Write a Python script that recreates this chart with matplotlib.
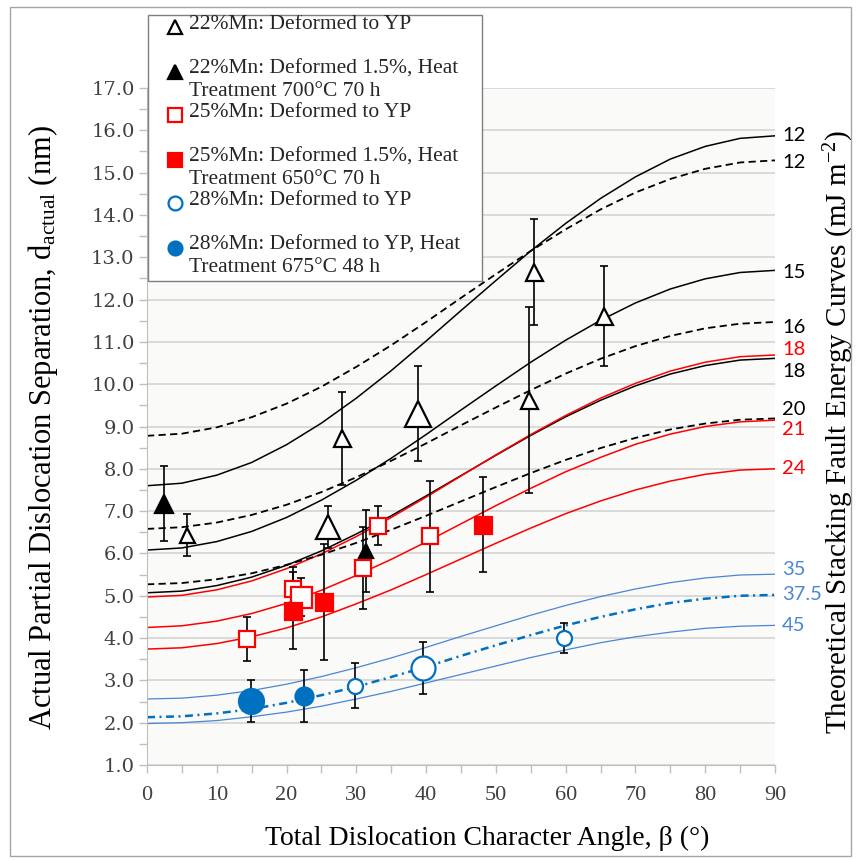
import matplotlib
matplotlib.use('Agg')
import matplotlib.pyplot as plt
from matplotlib.lines import Line2D
from matplotlib.patches import Rectangle
from matplotlib.ticker import MultipleLocator, FormatStrFormatter

W, H = 857, 861

# ---- theoretical SFE curves, d (nm) every 5 deg ----
beta = [0, 5, 10, 15, 20, 25, 30, 35, 40, 45, 50, 55, 60, 65, 70, 75, 80, 85, 90]

k12_solid = [7.60, 7.66, 7.85, 8.15, 8.57, 9.08, 9.67, 10.32, 11.02, 11.74,
             12.45, 13.15, 13.80, 14.39, 14.90, 15.32, 15.62, 15.81, 15.87]
k15_solid = [6.08, 6.13, 6.28, 6.52, 6.85, 7.26, 7.73, 8.25, 8.81, 9.39,
             9.96, 10.52, 11.04, 11.51, 11.92, 12.25, 12.49, 12.64, 12.69]
k18_solid = [5.07, 5.11, 5.24, 5.44, 5.72, 6.06, 6.46, 6.89, 7.36, 7.84,
             8.32, 8.79, 9.23, 9.62, 9.96, 10.24, 10.44, 10.57, 10.61]
k12_dash = [8.78, 8.83, 8.98, 9.22, 9.54, 9.94, 10.41, 10.92, 11.47, 12.04,
            12.60, 13.15, 13.66, 14.13, 14.53, 14.85, 15.09, 15.24, 15.29]
k16_dash = [6.58, 6.62, 6.73, 6.91, 7.15, 7.45, 7.80, 8.19, 8.60, 9.03,
            9.45, 9.86, 10.25, 10.60, 10.90, 11.14, 11.32, 11.43, 11.47]
k20_dash = [5.27, 5.30, 5.39, 5.53, 5.73, 5.97, 6.25, 6.56, 6.89, 7.23,
            7.57, 7.90, 8.21, 8.49, 8.73, 8.93, 9.07, 9.16, 9.19]
r18 = [4.97, 5.01, 5.14, 5.35, 5.64, 5.99, 6.40, 6.85, 7.33, 7.83,
       8.33, 8.81, 9.26, 9.67, 10.02, 10.31, 10.52, 10.65, 10.69]
r21 = [4.25, 4.29, 4.40, 4.58, 4.82, 5.13, 5.48, 5.86, 6.27, 6.70,
       7.13, 7.54, 7.93, 8.27, 8.58, 8.82, 9.00, 9.11, 9.15]
r24 = [3.74, 3.77, 3.87, 4.03, 4.24, 4.50, 4.81, 5.14, 5.50, 5.87,
       6.24, 6.60, 6.94, 7.24, 7.50, 7.71, 7.87, 7.97, 8.00]
b35 = [2.56, 2.58, 2.65, 2.76, 2.91, 3.09, 3.30, 3.53, 3.78, 4.04,
       4.29, 4.54, 4.77, 4.98, 5.16, 5.31, 5.42, 5.49, 5.51]
b375 = [2.13, 2.15, 2.22, 2.32, 2.47, 2.65, 2.85, 3.08, 3.32, 3.58,
        3.83, 4.07, 4.30, 4.50, 4.68, 4.83, 4.93, 5.00, 5.02]
b45 = [1.98, 2.00, 2.05, 2.14, 2.25, 2.39, 2.56, 2.74, 2.94, 3.14,
       3.34, 3.54, 3.72, 3.89, 4.03, 4.14, 4.23, 4.28, 4.30]

# ---- measured points ----
mn22_yp_x = [5.7, 25.9, 28.0, 38.9, 54.7, 55.4, 65.5]
mn22_yp_y = [6.44, 6.63, 8.72, 9.30, 9.62, 12.65, 11.62]
mn22_yp_err = [0.50, 0.50, 1.10, 1.12, 2.20, 1.25, 1.18]

mn22_ht_x = [2.4, 31.4]
mn22_ht_y = [7.18, 6.05]
mn22_ht_err = [0.88, 0.97]

mn25_yp_x = [14.3, 20.9, 22.1, 31.0, 33.1, 40.6]
mn25_yp_y = [3.97, 5.17, 4.97, 5.66, 6.66, 6.41]
mn25_yp_err = [0.52, 0.50, 0.45, 0.97, 0.45, 1.31]

mn25_ht_x = [20.9, 25.4, 48.1]
mn25_ht_y = [4.65, 4.85, 6.68]
mn25_ht_err = [0.90, 1.37, 1.13]

mn28_yp_x = [29.8, 39.5, 59.7]
mn28_yp_y = [2.87, 3.29, 4.00]
mn28_yp_err = [0.53, 0.62, 0.35]

mn28_ht_x = [14.9, 22.5]
mn28_ht_y = [2.51, 2.63]
mn28_ht_err = [0.50, 0.62]

legend_labels = [
    '22%Mn: Deformed to YP',
    '22%Mn: Deformed 1.5%, Heat\nTreatment 700\u00b0C 70 h',
    '25%Mn: Deformed to YP',
    '25%Mn: Deformed 1.5%, Heat\nTreatment 650\u00b0C 70 h',
    '28%Mn: Deformed to YP',
    '28%Mn: Deformed to YP, Heat\nTreatment 675\u00b0C 48 h',
]

RED = '#ff0000'
BLUE = '#0070c0'
LBLUE = '#4a86d4'
SERIF = 'Liberation Serif'

plt.rcParams['font.family'] = SERIF
plt.rcParams['mathtext.fontset'] = 'custom'
plt.rcParams['mathtext.rm'] = SERIF
plt.rcParams['mathtext.it'] = SERIF + ':italic'


def px(x, y):
    return x / W, 1 - y / H


fig = plt.figure(figsize=(W / 100, H / 100), dpi=100)
ax_l, ax_r, ax_t, ax_b = 147, 775, 88, 765
ax = fig.add_axes([ax_l / W, 1 - ax_b / H, (ax_r - ax_l) / W, (ax_b - ax_t) / H])
ax.set_facecolor('#fafaf8')
ax.set_xlim(0, 90)
ax.set_ylim(1, 17)

ax.yaxis.set_major_locator(MultipleLocator(1))
ax.yaxis.set_minor_locator(MultipleLocator(0.5))
ax.yaxis.set_major_formatter(FormatStrFormatter('%.1f'))
ax.xaxis.set_major_locator(MultipleLocator(10))
ax.xaxis.set_minor_locator(MultipleLocator(5))
ax.tick_params(which='both', direction='out', color='#bfbfbf', length=6, width=1)
ax.tick_params(axis='y', labelsize=14, pad=3)
ax.tick_params(axis='x', labelsize=16, pad=9)
for lab in ax.get_yticklabels():
    lab.set_family('DejaVu Serif')
    lab.set_color('#404040')
for lab in ax.get_xticklabels():
    lab.set_color('#404040')
ax.grid(True, axis='y', which='major', color='#d4d4d4', lw=1.2)
ax.set_axisbelow(True)
for s in ['top', 'right']:
    ax.spines[s].set_visible(False)
for s in ['left', 'bottom']:
    ax.spines[s].set_color('#bfbfbf')

# curves: (values, colour, linestyle, lw, label, label colour, label dy)
dash = (0, (4, 2.4))
dashdot = (0, (3.2, 1.8, 0.8, 1.8))
curves = [
    (k12_solid, 'black', '-', 1.1, '12', 'black', 0.0),
    (k12_dash, 'black', dash, 1.3, '12', 'black', -0.05),
    (k15_solid, 'black', '-', 1.1, '15', 'black', -0.05),
    (k16_dash, 'black', dash, 1.3, '16', 'black', -0.12),
    (k18_solid, 'black', '-', 1.1, '18', 'black', -0.3),
    (r18, RED, '-', 1.1, '18', RED, 0.14),
    (k20_dash, 'black', dash, 1.3, '20', 'black', 0.2),
    (r21, RED, '-', 1.1, '21', RED, -0.23),
    (r24, RED, '-', 1.1, '24', RED, 0.0),
    (b35, LBLUE, '-', 0.9, '35', LBLUE, 0.1),
    (b375, BLUE, dashdot, 1.8, '37.5', LBLUE, 0.02),
    (b45, LBLUE, '-', 0.9, '45', LBLUE, 0.0),
]
for vals, col, ls, lw, lab, lcol, dy in curves:
    ax.plot(beta, vals, color=col, ls=ls, lw=lw, zorder=2)
    ax.annotate(lab, (90, vals[-1] + dy), xytext=(5, 0), textcoords='offset points',
                ha='left', va='center', fontsize=14.5, color=lcol, family='Lato',
                annotation_clip=False)

# measured series: x, y, err, marker, face, edge, marker sizes (px)
series = [
    (mn22_yp_x, mn22_yp_y, mn22_yp_err, '^', 'white', 'black', [15, 24, 17, 26, 17, 17, 17]),
    (mn22_ht_x, mn22_ht_y, mn22_ht_err, '^', 'black', 'black', [18, 14]),
    (mn25_yp_x, mn25_yp_y, mn25_yp_err, 's', 'white', RED, [16, 16, 21, 16, 16, 16]),
    (mn25_ht_x, mn25_ht_y, mn25_ht_err, 's', RED, RED, [17, 17, 17]),
    (mn28_yp_x, mn28_yp_y, mn28_yp_err, 'o', 'white', BLUE, [15, 24, 15]),
    (mn28_ht_x, mn28_ht_y, mn28_ht_err, 'o', BLUE, BLUE, [25, 18]),
]
for xs, ys, es, mk, fc, ec, sizes in series:
    ax.errorbar(xs, ys, yerr=es, fmt='none', ecolor='black', elinewidth=1.2,
                capsize=2.8, capthick=1.2, zorder=3)
    for x, y, s in zip(xs, ys, sizes):
        ax.plot([x], [y], marker=mk, ms=s * 0.72, mfc=fc, mec=ec, mew=1.6,
                ls='none', zorder=4)

# axis titles
fig.text(*px(43, 428), 'Actual Partial Dislocation Separation, d$_{\\mathrm{actual}}$ (nm)',
         rotation=90, ha='center', va='center', fontsize=22)
fig.text(*px(839, 432), 'Theoretical Stacking Fault Energy Curves (mJ m$^{-2}$)',
         rotation=90, ha='center', va='center', fontsize=21)
fig.text(*px(487, 838), 'Total Dislocation Character Angle, \u03b2 (\u00b0)',
         ha='center', va='center', fontsize=20)

# legend box (drawn by hand to follow the original wrapping)
box = Rectangle(px(148, 281), (482 - 148) / W, (281 - 15) / H, transform=fig.transFigure,
                facecolor='white', edgecolor='#7f7f7f', lw=1, zorder=10)
fig.patches.append(box)
leg_marks = [('^', 'white', 'black'), ('^', 'black', 'black'), ('s', 'white', RED),
             ('s', RED, RED), ('o', 'white', BLUE), ('o', BLUE, BLUE)]
leg_y = [27, 72, 115, 160, 203, 248]
for (mk, fc, ec), y, lab in zip(leg_marks, leg_y, legend_labels):
    fig.lines.append(Line2D([175 / W], [1 - y / H], marker=mk, ms=10, mfc=fc, mec=ec,
                            mew=1.6, transform=fig.transFigure, zorder=11))
    t = fig.text(*px(189, y - 12), lab, ha='left', va='top', fontsize=15.5,
                 linespacing=1.18, color='#262626', zorder=11)
    t.set_clip_path(box)

# outer chart border
fig.patches.append(Rectangle(px(10, 856), (851 - 10) / W, (856 - 7) / H,
                             transform=fig.transFigure, facecolor='none',
                             edgecolor='#a6a6a6', lw=1, zorder=12))

fig.savefig('out.png', dpi=100, facecolor='white')
